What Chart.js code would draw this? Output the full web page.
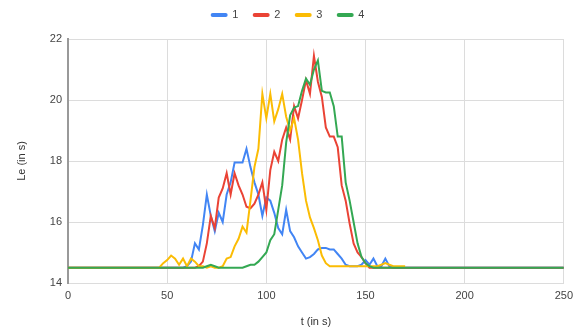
<!DOCTYPE html>
<html>
<head>
<meta charset="utf-8">
<title>Le over t</title>
<script src="https://cdn.jsdelivr.net/npm/chart.js"></script>
<style>
    html, body { margin: 0; padding: 0; background: #fff; }
    canvas { display: block; }
</style>
</head>
<body>
<canvas id="chart" width="579" height="336"></canvas>
<script>
'use strict';

/* Data: time in s, Le in s (shared time grid) */
const times = [0,
    46, 48, 50, 52, 54, 56, 58, 60, 62, 64,
    66, 68, 70, 72, 74, 76, 78, 80, 82, 84,
    86, 88, 90, 92, 94, 96, 98, 100, 102, 104,
    106, 108, 110, 112, 114, 116, 118, 120, 122, 124,
    126, 128, 130, 132, 134, 136, 138, 140, 142, 144,
    146, 148, 150, 152, 154, 156, 158, 160, 162, 164,
    166, 168, 170,
    250];

const series1 = [14.5,
    14.5, 14.5, 14.5, 14.5, 14.5, 14.5, 14.5, 14.55, 14.7, 15.3,
    15.1, 15.9, 16.9, 16.2, 15.7, 16.3, 16.0, 16.9, 17.3, 17.95,
    17.95, 17.95, 18.4, 17.8, 17.3, 16.9, 16.2, 16.8, 16.7, 16.3,
    15.8, 15.6, 16.4, 15.7, 15.5, 15.2, 15.0, 14.8, 14.85, 14.95,
    15.1, 15.15, 15.15, 15.1, 15.1, 14.95, 14.8, 14.6, 14.55, 14.55,
    14.55, 14.6, 14.75, 14.6, 14.8, 14.55, 14.55, 14.8, 14.55, 14.5,
    14.5, 14.5, 14.5,
    14.5];

const series2 = [14.5,
    14.5, 14.5, 14.5, 14.5, 14.5, 14.5, 14.5, 14.5, 14.5, 14.5,
    14.55, 14.7, 15.3, 16.2, 15.8, 16.8, 17.1, 17.6, 16.9, 17.6,
    17.2, 16.9, 16.5, 16.45, 16.6, 16.9, 17.3, 16.4, 17.7, 18.3,
    18.0, 18.7, 19.1, 18.7, 19.8, 19.4, 20.0, 20.65, 20.2, 21.45,
    20.6, 20.1, 19.1, 18.8, 18.8, 18.45, 17.2, 16.7, 15.95, 15.3,
    15.0, 14.85, 14.65, 14.5, 14.5, 14.5, 14.5, 14.5, 14.5, 14.5,
    14.5, 14.5, 14.5,
    14.5];

const series3 = [14.5,
    14.5, 14.65, 14.75, 14.9, 14.8, 14.6, 14.8, 14.55, 14.8, 14.7,
    14.55, 14.55, 14.5, 14.55, 14.5, 14.5, 14.55, 14.8, 14.85, 15.2,
    15.45, 15.85, 15.65, 16.7, 17.8, 18.4, 20.2, 19.4, 20.2, 19.3,
    19.7, 20.2, 19.45, 19.0, 19.4, 18.7, 17.6, 16.7, 16.15, 15.8,
    15.4, 14.9, 14.65, 14.55, 14.55, 14.55, 14.55, 14.55, 14.55, 14.55,
    14.55, 14.55, 14.55, 14.55, 14.55, 14.55, 14.6, 14.65, 14.6, 14.55,
    14.55, 14.55, 14.55,
    null];

const series4 = [14.5,
    14.5, 14.5, 14.5, 14.5, 14.5, 14.5, 14.5, 14.5, 14.5, 14.5,
    14.5, 14.5, 14.55, 14.6, 14.55, 14.5, 14.5, 14.5, 14.5, 14.5,
    14.5, 14.5, 14.55, 14.6, 14.6, 14.7, 14.85, 15.0, 15.4, 15.6,
    16.4, 17.2, 18.6, 19.5, 19.75, 19.8, 20.3, 20.7, 20.5, 21.0,
    21.3, 20.3, 20.25, 20.25, 19.8, 18.8, 18.8, 17.3, 16.7, 16.0,
    15.3, 14.85, 14.65, 14.55, 14.5, 14.5, 14.5, 14.5, 14.5, 14.5,
    14.5, 14.5, 14.5,
    14.5];

const seriesNames = ['1', '2', '3', '4'];
const seriesColors = ['#4285F4', '#EA4335', '#FBBC04', '#34A853'];
const xTicks = { min: 0, max: 250, step: 50 };
const yTicks = { min: 14, max: 22, step: 2 };

const TEXT = '#444';
const GRID = '#dcdcdc';

function toPoints(values) {
    return times.map((t, i) => ({ x: t, y: values[i] }));
}

function makeChart() {
    Chart.defaults.font.family = "'Liberation Sans', Arial, sans-serif";
    Chart.defaults.font.size = 11;
    Chart.defaults.color = TEXT;

    const all = [series1, series2, series3, series4];
    const datasets = all.map((values, i) => ({
        label: seriesNames[i],
        data: toPoints(values),
        borderColor: seriesColors[i],
        backgroundColor: seriesColors[i],
        borderWidth: 2,
        pointRadius: 0,
        tension: 0,
        // later series drawn on top, as in the original
        order: all.length - 1 - i,
    }));

    new Chart(document.getElementById('chart'), {
        type: 'line',
        data: { datasets },
        options: {
            responsive: false,
            animation: false,
            devicePixelRatio: 1,
            layout: { padding: { top: -5.9, left: 10, right: 13, bottom: 0 } },
            plugins: {
                legend: {
                    position: 'top',
                    reverse: true,
                    labels: {
                        boxWidth: 15,
                        boxHeight: 2,
                        padding: 15.4,
                        useBorderRadius: true,
                        borderRadius: 1,
                        color: TEXT,
                    },
                },
                // empty title only used as a spacer under the legend
                title: {
                    display: true,
                    text: '',
                    weight: 500,
                    font: { size: 1, lineHeight: 1 },
                    padding: { top: 0, bottom: 7.5 },
                },
                tooltip: { enabled: false },
            },
            scales: {
                x: {
                    type: 'linear',
                    min: xTicks.min,
                    max: xTicks.max,
                    ticks: { stepSize: xTicks.step, padding: 6, color: TEXT, maxRotation: 0 },
                    grid: { color: GRID, drawTicks: false },
                    border: { color: GRID },
                    title: { display: true, text: 't (in s)', color: '#333', padding: { top: 0, bottom: 7 } },
                    afterFit: s => { s.height = 53; },
                },
                y: {
                    min: yTicks.min,
                    max: yTicks.max,
                    ticks: { stepSize: yTicks.step, padding: 6, color: TEXT },
                    grid: { color: GRID, drawTicks: false },
                    border: { color: '#999', width: 2 },
                    title: { display: true, text: 'Le (in s)', color: '#333', padding: { top: 5.4, bottom: 0 } },
                    afterFit: s => { s.width = 58; },
                },
            },
        },
    });
}

makeChart();
</script>
</body>
</html>
